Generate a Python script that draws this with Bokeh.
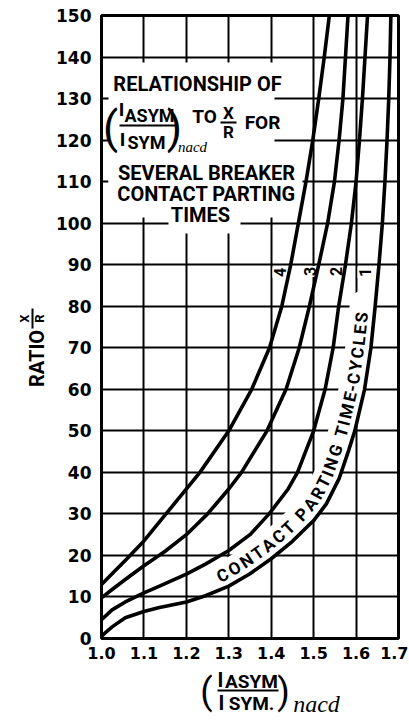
import numpy as np
from bokeh.plotting import figure
from bokeh.layouts import row, column
from bokeh.models import Range1d, FixedTicker, NumeralTickFormatter
from bokeh.core.properties import value
from bokeh.embed import file_html
from bokeh.resources import INLINE

# ---------------- data ----------------
X_TICKS = [1.0, 1.1, 1.2, 1.3, 1.4, 1.5, 1.6, 1.7]
Y_TICKS = [0, 10, 20, 30, 40, 50, 60, 70, 80, 90, 100, 110, 120, 130, 140, 150]

CURVE_NAMES = ["1", "2", "3", "4"]

C1_X = [1.0, 1.01, 1.025, 1.056, 1.1, 1.134, 1.2, 1.245, 1.3, 1.35, 1.4, 1.45, 1.5, 1.53,
        1.56, 1.58, 1.597, 1.62, 1.635, 1.645, 1.654, 1.662, 1.668, 1.673, 1.677, 1.680, 1.682]
C1_Y = [0.5, 1.5, 2.8, 5.0, 6.5, 7.4, 8.8, 10.3, 12.6, 15.6, 19.2, 23.4, 28.4, 32.4,
        38.5, 44.5, 50, 60, 70, 80, 90, 100, 110, 120, 130, 140, 150]
C2_X = [1.0, 1.025, 1.056, 1.1, 1.134, 1.2, 1.245, 1.3, 1.35, 1.395, 1.44, 1.462, 1.5,
        1.527, 1.546, 1.559, 1.575, 1.589, 1.600, 1.608, 1.615, 1.621, 1.627]
C2_Y = [4.5, 6.9, 8.8, 11.0, 12.5, 15.5, 17.9, 21.2, 25, 30, 36, 40, 50,
        60, 70, 80, 90, 100, 110, 120, 130, 140, 150]
C3_X = [1.0, 1.025, 1.056, 1.1, 1.15, 1.2, 1.25, 1.3, 1.33, 1.39, 1.435, 1.466, 1.49,
        1.512, 1.533, 1.549, 1.560, 1.569, 1.575, 1.581]
C3_Y = [9.8, 11.8, 14.2, 17.5, 21, 25, 30, 36, 40, 50, 60, 70, 80,
        90, 100, 110, 120, 130, 140, 150]
C4_X = [1.0, 1.025, 1.056, 1.1, 1.152, 1.232, 1.30, 1.354, 1.396, 1.425, 1.446, 1.464,
        1.482, 1.498, 1.512, 1.525, 1.537]
C4_Y = [13, 15.6, 18.8, 23.5, 30, 40, 50, 60, 70, 80, 90, 100,
        110, 120, 130, 140, 150]

CURVES = {"1": (C1_X, C1_Y), "2": (C2_X, C2_Y), "3": (C3_X, C3_Y), "4": (C4_X, C4_Y)}

TITLE_ROWS = ["RELATIONSHIP OF", "SEVERAL BREAKER", "CONTACT PARTING", "TIMES"]
CURVE_TEXT = "CONTACT PARTING TIME-CYCLES"
Y_TITLE = ["RATIO", "X", "R"]
X_TITLE = ["I", "ASYM", "I", "SYM.", "nacd"]

# ---------------- layout (page pixels, origin top-left) ----------------
FONT = "Roboto"
TICK_FONT = "DejaVu Sans"
LW = 52                     # width of the y-title strip
PW, PH = 356, 668           # main figure
BL, BR, BT, BB = 49, 10, 15, 30
FW, FH = PW - BL - BR, PH - BT - BB     # 297 x 623
XH = 48                     # height of the x-title strip
TOTAL_H = PH + XH
XR = (X_TICKS[0], X_TICKS[-1])
YR = (Y_TICKS[0], Y_TICKS[-1])
SX = FW / (XR[1] - XR[0])
SY = FH / (YR[1] - YR[0])
F_LEFT, F_BOTTOM = LW + BL, BT + FH      # page position of the frame


def rx(px):  # page pixel -> data x of the main plot
    return XR[0] + (px - F_LEFT) / SX


def ry(py):  # page pixel -> data y of the main plot
    return YR[0] + (F_BOTTOM - py) / SY


p = figure(width=PW, height=PH, x_range=Range1d(*XR), y_range=Range1d(*YR),
           output_backend="svg", toolbar_location=None,
           min_border_left=BL, min_border_right=BR, min_border_top=BT, min_border_bottom=BB)
p.background_fill_color = "white"
p.border_fill_color = "white"
p.outline_line_color = "black"
p.outline_line_width = 3
p.outline_line_alpha = 1

p.xaxis.ticker = FixedTicker(ticks=X_TICKS)
p.yaxis.ticker = FixedTicker(ticks=Y_TICKS)
p.xgrid.ticker = FixedTicker(ticks=X_TICKS)
p.ygrid.ticker = FixedTicker(ticks=Y_TICKS)
p.xaxis.formatter = NumeralTickFormatter(format="0.0")
p.grid.grid_line_color = "black"
p.grid.grid_line_width = 2
p.grid.grid_line_alpha = 1
p.axis.axis_line_color = None
p.axis.major_tick_line_color = None
p.axis.minor_tick_line_color = None
p.axis.major_tick_in = 0
p.axis.major_tick_out = 0
p.axis.major_label_text_font = TICK_FONT
p.axis.major_label_text_font_style = "bold"
p.yaxis.major_label_text_font_size = "17px"
p.xaxis.major_label_text_font_size = "16px"
p.axis.major_label_text_color = "black"
p.yaxis.major_label_standoff = 10
p.xaxis.major_label_standoff = 8


def to_px(x, y):
    return (np.asarray(x, float) - XR[0]) * SX, (np.asarray(y, float) - YR[0]) * SY


def to_data(X, Y):
    return XR[0] + np.asarray(X) / SX, YR[0] + np.asarray(Y) / SY


# ---------- path for the curved label, running alongside curve 1 ----------
cx, cy = to_px(C1_X, C1_Y)
s = np.concatenate([[0.0], np.cumsum(np.hypot(np.diff(cx), np.diff(cy)))])
ss = np.arange(0.0, s[-1], 1.0)
bx, by = np.interp(ss, s, cx), np.interp(ss, s, cy)
win = 14.0
tx = np.interp(np.clip(ss + win, 0, s[-1]), s, cx) - np.interp(np.clip(ss - win, 0, s[-1]), s, cx)
ty = np.interp(np.clip(ss + win, 0, s[-1]), s, cy) - np.interp(np.clip(ss - win, 0, s[-1]), s, cy)
nn = np.hypot(tx, ty)
tx, ty = tx / nn, ty / nn
OFF = 12.5
ox, oy = bx - ty * OFF, by + tx * OFF
so = np.concatenate([[0.0], np.cumsum(np.hypot(np.diff(ox), np.diff(oy)))])


def nearest(px, py):
    X, Y = to_px(rx(px), ry(py))
    return so[int(np.argmin(np.hypot(ox - X, oy - Y)))]


s_start = nearest(223, 577)
s_end = nearest(362, 317)

# white band that interrupts the grid behind the curved lettering
band = (so >= s_start - 14) & (so <= s_end + 14)
mx, my = to_data(ox[band], oy[band])
p.line(mx, my, line_width=26, line_color="white", line_cap="round")

# interruptions of the grid behind the title block
p.quad(left=[rx(108), rx(108), rx(168)], right=[rx(274), rx(302), rx(240)],
       bottom=[ry(217), ry(202), ry(233)], top=[ry(62), ry(163), ry(200)],
       fill_color="white", line_color=None)

# curve number labels (drawn under the curves)
LABEL_POS = {"4": (279, 272), "3": (309, 271), "2": (335, 271), "1": (364, 272)}
for nm in CURVE_NAMES:
    px, py = LABEL_POS[nm]
    p.text(x=[rx(px)], y=[ry(py)], text=[nm], angle=np.pi / 2,
           text_font=value(FONT), text_font_style="bold", text_font_size="16px",
           text_align="center", text_baseline="middle", text_color="black",
           background_fill_color="white", padding=1)

# the four curves
for nm in CURVE_NAMES:
    xs, ys = CURVES[nm]
    p.line(xs, ys, line_width=3.6, line_color="black", line_join="round", line_cap="round")

# curved lettering
WID = {"A": .666, "B": .633, "C": .656, "D": .657, "E": .567, "G": .687, "I": .289, "L": .543,
       "M": .877, "N": .714, "O": .691, "P": .645, "R": .627, "S": .613, "T": .614, "Y": .613,
       " ": .30, "-": .30}
wv = np.array([WID.get(ch, .62) for ch in CURVE_TEXT])
centers = np.cumsum(wv) - wv / 2
tnorm = (centers - centers[0]) / (centers[-1] - centers[0])
sc = s_start + tnorm * (s_end - s_start)
chx = np.interp(sc, so, ox)
chy = np.interp(sc, so, oy)
dx = np.interp(sc + 8, so, ox) - np.interp(sc - 8, so, ox)
dy = np.interp(sc + 8, so, oy) - np.interp(sc - 8, so, oy)
ang = np.arctan2(dy, dx)
dxs, dys = to_data(chx, chy)
keep = [i for i, ch in enumerate(CURVE_TEXT) if ch != " "]
p.text(x=dxs[keep], y=dys[keep], text=[CURVE_TEXT[i] for i in keep], angle=ang[keep],
       text_font=value(FONT), text_font_style="bold", text_font_size="17px",
       text_align="center", text_baseline="middle", text_color="black")


# ---------- title block inside the plot ----------
def txt(fig, fx, fy, px, py, s_, size, style="bold", font=FONT, angle=0.0):
    fig.text(x=[fx(px)], y=[fy(py)], text=[s_], angle=angle, text_font=value(font),
             text_font_size=f"{size}px", text_font_style=style, text_align="center",
             text_baseline="middle", text_color="black")


txt(p, rx, ry, 197, 83, TITLE_ROWS[0], 20)
txt(p, rx, ry, 110, 127, "(", 44, style="normal")
txt(p, rx, ry, 121, 109, "I", 19)
txt(p, rx, ry, 149, 115, "ASYM", 18)
p.segment(x0=[rx(119)], y0=[ry(125)], x1=[rx(176)], y1=[ry(125)], line_width=2, line_color="black")
txt(p, rx, ry, 122, 139, "I", 19)
txt(p, rx, ry, 146, 142, "SYM", 18)
txt(p, rx, ry, 174, 127, ")", 44, style="normal")
txt(p, rx, ry, 192, 146, "nacd", 15, style="italic", font="Liberation Serif")
txt(p, rx, ry, 204, 116, "TO", 19)
txt(p, rx, ry, 228, 112, "X", 17)
p.segment(x0=[rx(220)], y0=[ry(122)], x1=[rx(236)], y1=[ry(122)], line_width=2, line_color="black")
txt(p, rx, ry, 228, 131, "R", 17)
txt(p, rx, ry, 262, 122, "FOR", 19)
txt(p, rx, ry, 206, 172, TITLE_ROWS[1], 20)
txt(p, rx, ry, 206, 193, TITLE_ROWS[2], 20)
txt(p, rx, ry, 200, 214, TITLE_ROWS[3], 20)


# ---------- axis-title strips (own small figures, 1 data unit = 1 page px) ----------
def strip(w, h, x0, x1, y0, y1, bl=0, br=0):
    f = figure(width=w, height=h, x_range=Range1d(x0, x1), y_range=Range1d(y0, y1),
               output_backend="svg", toolbar_location=None,
               x_axis_location=None, y_axis_location=None,
               min_border=0, min_border_left=bl, min_border_right=br,
               min_border_top=0, min_border_bottom=0)
    f.grid.visible = False
    f.outline_line_color = None
    f.background_fill_color = "white"
    f.border_fill_color = "white"
    return f


ident = lambda px: px
flip = lambda py: TOTAL_H - py

# y title strip: page x 0..LW, page y 0..TOTAL_H
yf = strip(LW, TOTAL_H, 0, LW, 0, TOTAL_H)
txt(yf, ident, flip, 36, 358, Y_TITLE[0], 20, angle=np.pi / 2)
txt(yf, ident, flip, 24, 318, Y_TITLE[1], 13, angle=np.pi / 2)
yf.segment(x0=[32], y0=[flip(308)], x1=[32], y1=[flip(328)], line_width=2, line_color="black")
txt(yf, ident, flip, 39, 318, Y_TITLE[2], 13, angle=np.pi / 2)

# x title strip: same horizontal frame as the main plot, x data = page px
xf = strip(PW, XH, F_LEFT, F_LEFT + FW, 0, XH, bl=BL, br=BR)
txt(xf, ident, flip, 206, 691, "(", 36, style="normal")
txt(xf, ident, flip, 220, 679, X_TITLE[0], 20)
txt(xf, ident, flip, 251, 681, X_TITLE[1], 19)
xf.segment(x0=[217], y0=[flip(690)], x1=[278], y1=[flip(690)], line_width=2, line_color="black")
txt(xf, ident, flip, 221, 702, X_TITLE[2], 20)
txt(xf, ident, flip, 251, 703, X_TITLE[3], 19)
txt(xf, ident, flip, 283, 691, ")", 36, style="normal")
txt(xf, ident, flip, 316, 703, X_TITLE[4], 24, style="italic", font="Liberation Serif")

layout = row(yf, column(p, xf, spacing=0), spacing=0)
open("out.html", "w").write(file_html(layout, INLINE))
